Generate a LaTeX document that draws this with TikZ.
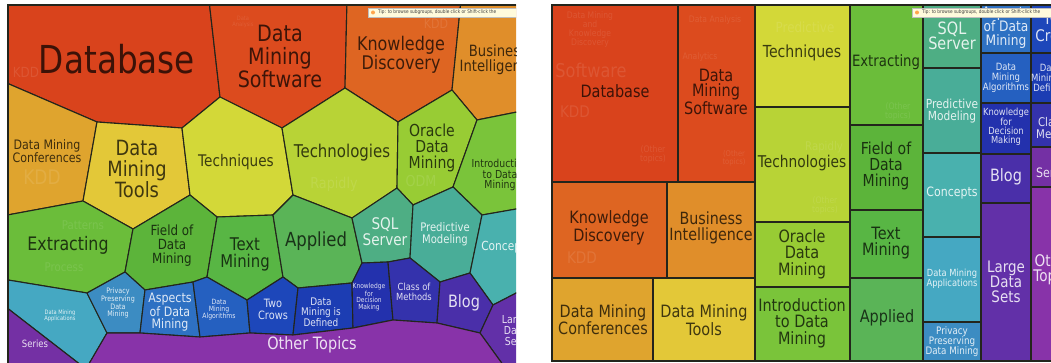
\documentclass[tikz,border=0pt]{standalone}
\usepackage{fontspec}
\setmainfont{DejaVu Sans}[FakeStretch=0.85]
\definecolor{edgecol}{HTML}{23251C}
\definecolor{cDB}{HTML}{D9431C}
\definecolor{cDMS}{HTML}{DC4B1E}
\definecolor{cKD}{HTML}{DE6522}
\definecolor{cBI}{HTML}{E08E2A}
\definecolor{cConf}{HTML}{DFA42E}
\definecolor{cTools}{HTML}{E3C838}
\definecolor{cTech}{HTML}{D3D838}
\definecolor{cTechn}{HTML}{B8D336}
\definecolor{cOra}{HTML}{98CC34}
\definecolor{cIntro}{HTML}{7AC43A}
\definecolor{cExt}{HTML}{6BBD3A}
\definecolor{cField}{HTML}{5CB43A}
\definecolor{cText}{HTML}{58B644}
\definecolor{cAppl}{HTML}{5AB457}
\definecolor{cSQL}{HTML}{4EAE84}
\definecolor{cPred}{HTML}{49AD98}
\definecolor{cConc}{HTML}{49B1AE}
\definecolor{cApps}{HTML}{45A8C2}
\definecolor{cPriv}{HTML}{3C8CC2}
\definecolor{cAsp}{HTML}{2E71C3}
\definecolor{cAlg}{HTML}{2560C0}
\definecolor{cTwo}{HTML}{1D47BA}
\definecolor{cDef}{HTML}{1C3DB3}
\definecolor{cKfDM}{HTML}{2331AD}
\definecolor{cClass}{HTML}{3432AC}
\definecolor{cBlog}{HTML}{4A2FA9}
\definecolor{cLDS}{HTML}{6230A8}
\definecolor{cOther}{HTML}{8833A9}
\definecolor{cSeries}{HTML}{7430A4}
\definecolor{tipfill}{HTML}{FFFBDC}
\tikzset{
  cell/.style={draw=edgecol, line width=1.1pt, line join=round},
  rcell/.style={draw=edgecol, line width=1.4pt},
  frame/.style={draw=edgecol, line width=1.6pt},
  dk/.style={text=black, text opacity=0.72, align=center, inner sep=0pt},
  lt/.style={text=white, text opacity=0.85, align=center, inner sep=0pt},
  ghost/.style={text=white, text opacity=0.1, align=center, inner sep=0pt},
  fs/.style 2 args={font=\fontsize{#1}{#2}\selectfont},
  tipbox/.style={fill=tipfill, draw=black!25, line width=0.3pt},
  tiptext/.style={anchor=west, inner sep=0pt, text=black!75, font=\fontsize{5}{5}\selectfont},
}
\begin{document}
\begin{tikzpicture}[x=1pt,y=-1pt]
\useasboundingbox (0,0) rectangle (1051,363);
\fill[white] (0,0) rectangle (1051,363);

% ================= LEFT PANEL: Voronoi treemap =================
\begin{scope}
\clip (8,5) rectangle (516,363);
\coordinate (vTL) at (2,0);
\coordinate (vE) at (209,0);
\coordinate (vF) at (347,0);
\coordinate (vI) at (461,0);
\coordinate (vTR) at (522,0);
\coordinate (vA) at (2,81);
\coordinate (vB) at (97,122);
\coordinate (vC) at (182,128);
\coordinate (vD) at (220,97);
\coordinate (vG) at (345,88);
\coordinate (vH) at (282,128);
\coordinate (vJ) at (452,90);
\coordinate (vK) at (398,122);
\coordinate (vL) at (477,120);
\coordinate (vM) at (522,111);
\coordinate (vN) at (453,187);
\coordinate (vO) at (482,215);
\coordinate (vP) at (522,208);
\coordinate (vQ) at (470,273);
\coordinate (vR) at (493,305);
\coordinate (vS) at (522,290);
\coordinate (b1) at (83,201);
\coordinate (b2) at (2,216);
\coordinate (b3) at (133,229);
\coordinate (b4) at (190,195);
\coordinate (b5) at (217,217);
\coordinate (b6) at (273,215);
\coordinate (b7) at (293,195);
\coordinate (b8) at (352,218);
\coordinate (b9) at (397,188);
\coordinate (b10) at (413,205);
\coordinate (c1) at (125,272);
\coordinate (c2) at (87,293);
\coordinate (c3) at (2,279);
\coordinate (c4) at (145,290);
\coordinate (c5) at (193,282);
\coordinate (c6) at (207,277);
\coordinate (c7) at (247,300);
\coordinate (c8) at (283,277);
\coordinate (c9) at (298,288);
\coordinate (c10) at (352,283);
\coordinate (c11) at (362,263);
\coordinate (c12) at (388,262);
\coordinate (c13) at (410,258);
\coordinate (c14) at (440,282);
\coordinate (d1) at (107,333);
\coordinate (d2) at (140,333);
\coordinate (d3) at (200,337);
\coordinate (d4) at (250,333);
\coordinate (d5) at (293,335);
\coordinate (d6) at (353,328);
\coordinate (d7) at (393,320);
\coordinate (d8) at (437,323);
\coordinate (d9) at (480,333);
\coordinate (e1) at (2,304);
\coordinate (e2) at (86,369);
\coordinate (e3) at (506,369);
\coordinate (e4) at (522,369);
\coordinate (e5) at (2,369);

\filldraw[cell,fill=cDB] (vTL) -- (vE) -- (vD) -- (vC) -- (vB) -- (vA) -- cycle;
\filldraw[cell,fill=cDMS] (vE) -- (vF) -- (vG) -- (vH) -- (vD) -- cycle;
\filldraw[cell,fill=cKD] (vF) -- (vI) -- (vJ) -- (vK) -- (vG) -- cycle;
\filldraw[cell,fill=cBI] (vI) -- (vTR) -- (vM) -- (vL) -- (vJ) -- cycle;
\filldraw[cell,fill=cConf] (vA) -- (vB) -- (b1) -- (b2) -- cycle;
\filldraw[cell,fill=cTools] (vB) -- (vC) -- (b4) -- (b3) -- (b1) -- cycle;
\filldraw[cell,fill=cTech] (vC) -- (vD) -- (vH) -- (b7) -- (b6) -- (b5) -- (b4) -- cycle;
\filldraw[cell,fill=cTechn] (vH) -- (vG) -- (vK) -- (b9) -- (b8) -- (b7) -- cycle;
\filldraw[cell,fill=cOra] (vK) -- (vJ) -- (vL) -- (vN) -- (b10) -- (b9) -- cycle;
\filldraw[cell,fill=cIntro] (vL) -- (vM) -- (vP) -- (vO) -- (vN) -- cycle;
\filldraw[cell,fill=cExt] (b2) -- (b1) -- (b3) -- (c1) -- (c2) -- (c3) -- cycle;
\filldraw[cell,fill=cField] (b3) -- (b4) -- (b5) -- (c6) -- (c5) -- (c4) -- (c1) -- cycle;
\filldraw[cell,fill=cText] (b5) -- (b6) -- (c8) -- (c7) -- (c6) -- cycle;
\filldraw[cell,fill=cAppl] (b6) -- (b7) -- (b8) -- (c11) -- (c10) -- (c9) -- (c8) -- cycle;
\filldraw[cell,fill=cSQL] (b8) -- (b9) -- (b10) -- (c13) -- (c12) -- (c11) -- cycle;
\filldraw[cell,fill=cPred] (b10) -- (vN) -- (vO) -- (vQ) -- (c14) -- (c13) -- cycle;
\filldraw[cell,fill=cConc] (vO) -- (vP) -- (vS) -- (vR) -- (vQ) -- cycle;
\filldraw[cell,fill=cApps] (c3) -- (c2) -- (d1) -- (e2) -- (e1) -- cycle;
\filldraw[cell,fill=cPriv] (c2) -- (c1) -- (c4) -- (d2) -- (d1) -- cycle;
\filldraw[cell,fill=cAsp] (c4) -- (c5) -- (d3) -- (d2) -- cycle;
\filldraw[cell,fill=cAlg] (c5) -- (c6) -- (c7) -- (d4) -- (d3) -- cycle;
\filldraw[cell,fill=cTwo] (c7) -- (c8) -- (c9) -- (d5) -- (d4) -- cycle;
\filldraw[cell,fill=cDef] (c9) -- (c10) -- (d6) -- (d5) -- cycle;
\filldraw[cell,fill=cKfDM] (c11) -- (c12) -- (d7) -- (d6) -- (c10) -- cycle;
\filldraw[cell,fill=cClass] (c12) -- (c13) -- (c14) -- (d8) -- (d7) -- cycle;
\filldraw[cell,fill=cBlog] (c14) -- (vQ) -- (vR) -- (d9) -- (d8) -- cycle;
\filldraw[cell,fill=cLDS] (vR) -- (vS) -- (e4) -- (e3) -- (d9) -- cycle;
\filldraw[cell,fill=cSeries] (e1) -- (e2) -- (e5) -- cycle;
\filldraw[cell,fill=cOther] (d1) -- (d2) -- (d3) -- (d4) -- (d5) -- (d6) -- (d7) -- (d8) -- (d9) -- (e3) -- (e2) -- cycle;

% faint sub-labels
\node[ghost,fs={14}{14}] (gKDD1) at (26,72) {KDD};
\node[ghost,fs={20}{20}] (gKDD2) at (42,177) {KDD};
\node[ghost,fs={12}{12}] (gPat) at (83,225) {Patterns};
\node[ghost,fs={12}{12}] (gProc) at (64,267) {Process};
\node[ghost,fs={15}{15}] (gRap) at (334,184) {Rapidly};
\node[ghost,fs={15}{15}] (gODM) at (421,181) {ODM};
\node[ghost,fs={13}{13}] (gKDD3) at (436,24) {KDD};
\node[ghost,fs={6}{6}] (gDA) at (243,22) {Data\\Analysis};

% labels
\node[dk,fs={38.5}{40}] (lDB) at (117,59) {Database};
\node[dk,fs={22.5}{23}] (lDMS) at (280,56) {Data\\Mining\\Software};
\node[dk,fs={18.8}{18.5}] (lKD) at (401,55) {Knowledge\\Discovery};
\node[dk,fs={15.5}{15}] (lBI) at (498,60) {Business\\Intelligence};
\node[dk,fs={13}{12.5}] (lConf) at (47,151) {Data Mining\\Conferences};
\node[dk,fs={21}{21}] (lTools) at (137,169) {Data\\Mining\\Tools};
\node[dk,fs={16}{16}] (lTech) at (236,162) {Techniques};
\node[dk,fs={17.6}{18}] (lTechn) at (342,153) {Technologies};
\node[dk,fs={16.5}{16}] (lOra) at (432,148) {Oracle\\Data\\Mining};
\node[dk,fs={11}{10.5}] (lIntro) at (500,175) {Introduction\\to Data\\Mining};
\node[dk,fs={18.6}{19}] (lExt) at (68,245) {Extracting};
\node[dk,fs={14}{14}] (lField) at (172,246) {Field of\\Data\\Mining};
\node[dk,fs={17.5}{17}] (lText) at (245,254) {Text\\Mining};
\node[dk,fs={19.4}{20}] (lAppl) at (316,241) {Applied};
\node[lt,fs={16}{16}] (lSQL) at (385,232) {SQL\\Server};
\node[lt,fs={11.8}{11.5}] (lPred) at (445,234) {Predictive\\Modeling};
\node[lt,fs={12.5}{12}] (lConc) at (506,247) {Concepts};
\node[lt,fs={17}{17}] (lBlog) at (464,303) {Blog};
\node[lt,fs={11}{11}] (lLDS) at (515,331) {Large\\Data\\Sets};
\node[lt,fs={9.8}{10}] (lClass) at (414,292) {Class of\\Methods};
\node[lt,fs={7}{6.7}] (lKfDM) at (369,297) {Knowledge\\for\\Decision\\Making};
\node[lt,fs={10.5}{10}] (lDef) at (321,312) {Data\\Mining is\\Defined};
\node[lt,fs={11.5}{12}] (lTwo) at (273,309) {Two\\Crows};
\node[lt,fs={7.2}{7}] (lAlg) at (219,310) {Data\\Mining\\Algorithms};
\node[lt,fs={13}{12}] (lAsp) at (170,312) {Aspects\\of Data\\Mining};
\node[lt,fs={7.5}{7}] (lPriv) at (118,303) {Privacy\\Preserving\\Data\\Mining};
\node[lt,fs={6}{6}] (lApps) at (60,316) {Data Mining\\Applications};
\node[lt,fs={10}{10}] (lSer) at (35,344) {Series};
\node[lt,fs={17}{17}] (lOther) at (312,345) {Other Topics};

% tooltip
\filldraw[tipbox] (368,8) rectangle (522,17);
\fill[orange!70] (373,12.5) circle (2pt);
\node[tiptext] (ltip) at (378,12.5) {Tip: to browse subgroups, double click or Shift-click the};
\end{scope}
\draw[frame] (516,5) -- (8,5) -- (8,363);

% ================= RIGHT PANEL: rectangular treemap =================
\begin{scope}
\clip (552,5) rectangle (1051,361);
\filldraw[rcell,fill=cDB] (552,5) rectangle (678,182);
\filldraw[rcell,fill=cDMS] (678,5) rectangle (755,182);
\filldraw[rcell,fill=cKD] (552,182) rectangle (667,278);
\filldraw[rcell,fill=cBI] (667,182) rectangle (755,278);
\filldraw[rcell,fill=cConf] (552,278) rectangle (653,361);
\filldraw[rcell,fill=cTools] (653,278) rectangle (755,361);
\filldraw[rcell,fill=cTech] (755,5) rectangle (850,107);
\filldraw[rcell,fill=cTechn] (755,107) rectangle (850,222);
\filldraw[rcell,fill=cOra] (755,222) rectangle (850,287);
\filldraw[rcell,fill=cIntro] (755,287) rectangle (850,361);
\filldraw[rcell,fill=cExt] (850,5) rectangle (923,125);
\filldraw[rcell,fill=cField] (850,125) rectangle (923,210);
\filldraw[rcell,fill=cText] (850,210) rectangle (923,278);
\filldraw[rcell,fill=cAppl] (850,278) rectangle (923,361);
\filldraw[rcell,fill=cSQL] (923,5) rectangle (981,68);
\filldraw[rcell,fill=cPred] (923,68) rectangle (981,153);
\filldraw[rcell,fill=cConc] (923,153) rectangle (981,237);
\filldraw[rcell,fill=cApps] (923,237) rectangle (981,322);
\filldraw[rcell,fill=cPriv] (923,322) rectangle (981,361);
\filldraw[rcell,fill=cAsp] (981,5) rectangle (1031,53);
\filldraw[rcell,fill=cAlg] (981,53) rectangle (1031,103);
\filldraw[rcell,fill=cKfDM] (981,103) rectangle (1031,154);
\filldraw[rcell,fill=cBlog] (981,154) rectangle (1031,203);
\filldraw[rcell,fill=cLDS] (981,203) rectangle (1031,361);
\filldraw[rcell,fill=cTwo] (1031,5) rectangle (1080,53);
\filldraw[rcell,fill=cDef] (1031,53) rectangle (1080,103);
\filldraw[rcell,fill=cClass] (1031,103) rectangle (1080,147);
\filldraw[rcell,fill=cSeries] (1031,147) rectangle (1080,187);
\filldraw[rcell,fill=cOther] (1031,187) rectangle (1080,361);

% faint sub-labels
\node[ghost,fs={9}{9}] (gDMKD) at (590,30) {Data Mining\\and\\Knowledge\\Discovery};
\node[ghost,fs={19}{19}] (gSoft) at (591,70) {Software};
\node[ghost,fs={16}{16}] (gKDD4) at (575,112) {KDD};
\node[ghost,fs={9}{9}] (gOT2) at (653,155) {(Other\\topics)};
\node[ghost,fs={9}{9}] (gAna) at (715,20) {Data Analysis};
\node[ghost,fs={9}{9}] (gAnl) at (700,57) {Analytics};
\node[ghost,fs={8}{8}] (gOT3) at (734,158) {(Other\\topics)};
\node[ghost,fs={14}{14}] (gPred) at (805,27) {Predictive};
\node[ghost,fs={12}{12}] (gRap2) at (824,147) {Rapidly};
\node[ghost,fs={9}{9}] (gOT4) at (825,206) {(Other\\topics)};
\node[ghost,fs={9}{9}] (gOT1) at (898,112) {(Other\\topics)};
\node[ghost,fs={16}{16}] (gKDD5) at (582,258) {KDD};

% labels
\node[dk,fs={17}{17}] (rDB) at (615,91) {Database};
\node[dk,fs={17}{15}] (rDMS) at (716,92) {Data\\Mining\\Software};
\node[dk,fs={16.6}{16}] (rTech) at (802,53) {Techniques};
\node[dk,fs={16.2}{16}] (rTechn) at (802,163) {Technologies};
\node[dk,fs={17}{16.5}] (rOra) at (802,254) {Oracle\\Data\\Mining};
\node[dk,fs={17}{16.5}] (rIntro) at (802,323) {Introduction\\to Data\\Mining};
\node[dk,fs={15.6}{16}] (rExt) at (886,62) {Extracting};
\node[dk,fs={16.5}{16}] (rField) at (886,166) {Field of\\Data\\Mining};
\node[dk,fs={17}{16}] (rText) at (886,243) {Text\\Mining};
\node[dk,fs={17}{17}] (rAppl) at (887,318) {Applied};
\node[dk,fs={17}{16}] (rKD) at (609,228) {Knowledge\\Discovery};
\node[dk,fs={16.8}{16}] (rBI) at (711,228) {Business\\Intelligence};
\node[dk,fs={16.9}{16}] (rConf) at (603,320) {Data Mining\\Conferences};
\node[dk,fs={17}{16}] (rTools) at (704,320) {Data Mining\\Tools};
\node[lt,fs={17}{15}] (rSQL) at (952,36) {SQL\\Server};
\node[lt,fs={12.5}{12}] (rPred) at (952,111) {Predictive\\Modeling};
\node[lt,fs={12.9}{13}] (rConc) at (952,193) {Concepts};
\node[lt,fs={9.8}{9}] (rApps) at (952,279) {Data Mining\\Applications};
\node[lt,fs={10.3}{10}] (rPriv) at (952,342) {Privacy\\Preserving\\Data Mining};
\node[lt,fs={14.4}{14}] (rAsp) at (1006,28) {Aspects\\of Data\\Mining};
\node[lt,fs={10}{10}] (rAlg) at (1006,78) {Data\\Mining\\Algorithms};
\node[lt,fs={9.8}{9}] (rKfDM) at (1006,127) {Knowledge\\for\\Decision\\Making};
\node[lt,fs={17}{17}] (rBlog) at (1006,177) {Blog};
\node[lt,fs={15.8}{15}] (rLDS) at (1006,282) {Large\\Data\\Sets};
\node[lt,fs={16}{17}] (rTwo) at (1056,27) {Two\\Crows};
\node[lt,fs={10}{10}] (rDef) at (1050,78) {Data\\Mining is\\Defined};
\node[lt,fs={12}{12}] (rClass) at (1058,128) {Class of\\Methods};
\node[lt,fs={13}{13}] (rSer) at (1053,173) {Series};
\node[lt,fs={16}{15}] (rOther) at (1054,270) {Other\\Topics};

% tooltip
\filldraw[tipbox] (912,8) rectangle (1060,17);
\fill[orange!70] (917,12.5) circle (2pt);
\node[tiptext] (rtip) at (922,12.5) {Tip: to browse subgroups, double click or Shift-click the};
\end{scope}
\draw[frame] (1051,5) -- (552,5) -- (552,361) -- (1051,361);
\end{tikzpicture}
\end{document}
